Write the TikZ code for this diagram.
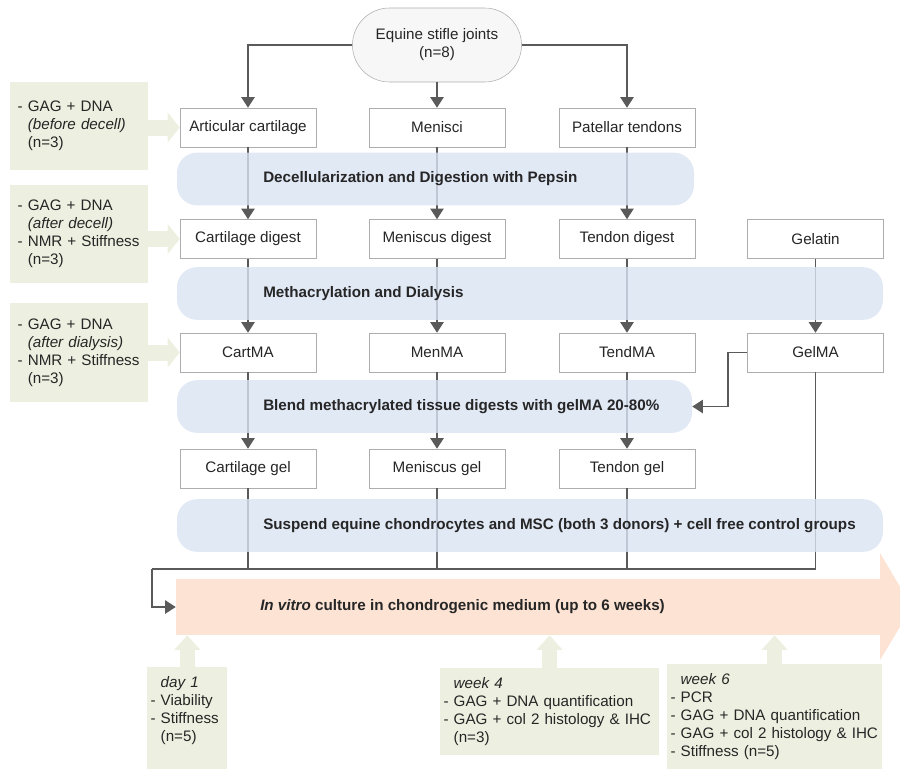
\documentclass[tikz,border=0pt]{standalone}
\usepackage{fontspec}
\setmainfont{Liberation Sans}
\usetikzlibrary{arrows.meta,shapes.misc}
\definecolor{bandblue}{HTML}{DAE3F3}
\definecolor{notegreen}{HTML}{EDF0E0}
\definecolor{culturepeach}{HTML}{FCE3D3}
\definecolor{linegray}{HTML}{5A5A5A}
\definecolor{boxgray}{HTML}{ADADAD}
\definecolor{textgray}{HTML}{262626}
\begin{document}
\begin{tikzpicture}[x=0.75pt,y=-0.75pt,
  every node/.style={font=\fontsize{11.4}{13.5}\selectfont,text=textgray},
  tissuebox/.style={draw=boxgray,fill=white,minimum width=102pt,minimum height=29.25pt,inner sep=0pt},
  procband/.style={fill=bandblue,fill opacity=0.8,rounded corners=15pt,inner sep=0pt,minimum height=39.5pt},
  bandlabel/.style={anchor=west,inner sep=0pt,font=\fontsize{11.4}{13.5}\selectfont\bfseries},
  notebox/.style={fill=notegreen,align=left,text width=92pt,inner xsep=5.75pt,minimum width=103.5pt},
  timebox/.style={fill=notegreen,align=left,anchor=north west,inner xsep=2.5pt,inner ysep=7pt},
  flowline/.style={draw=linegray,line width=1.2pt,-{Triangle[length=8pt,width=10pt]}},
  joinline/.style={draw=linegray,line width=1.2pt},
  notearrow/.style={draw=notegreen,line width=12pt,-{Triangle[length=9pt,width=22pt]}},
  timearrow/.style={draw=notegreen,line width=11pt,-{Triangle[length=11pt,width=19pt]}}]
\clip (0,0) rectangle (900,768);

% source
\node[rounded rectangle,draw=boxgray,fill=black!3,minimum width=133.5pt,minimum height=55.5pt,align=center] (joints) at (437,45) {Equine stifle joints\\(n=8)};

% tissues
\node[tissuebox] (art) at (248,127.5) {Articular cartilage};
\node[tissuebox] (men) at (437,127.5) {Menisci};
\node[tissuebox] (pat) at (627,127.5) {Patellar tendons};
% digests
\node[tissuebox] (cdig) at (248,239) {Cartilage digest};
\node[tissuebox] (mdig) at (437,239) {Meniscus digest};
\node[tissuebox] (tdig) at (627,239) {Tendon digest};
\node[tissuebox] (gelatin) at (815.5,239) {Gelatin};
% methacrylated
\node[tissuebox] (cartma) at (248,352.5) {CartMA};
\node[tissuebox] (menma) at (437,352.5) {MenMA};
\node[tissuebox] (tendma) at (627,352.5) {TendMA};
\node[tissuebox] (gelma) at (815.5,352.5) {GelMA};
% gels
\node[tissuebox] (cgel) at (248,468.5) {Cartilage gel};
\node[tissuebox] (mgel) at (437,468.5) {Meniscus gel};
\node[tissuebox] (tgel) at (627,468.5) {Tendon gel};

% culture arrow
\node[fill=culturepeach,minimum width=528pt,minimum height=42pt,inner sep=0pt] (culture) at (528,607) {};
\fill[culturepeach] (880,553) -- (912,607) -- (880,660) -- cycle;
\node[bandlabel] (culturetxt) at (260,607) {\textit{In vitro} culture in chondrogenic medium (up to 6 weeks)};
\coordinate (join) at (152,569);

% connectors
\draw[flowline] (joints.west) -| (art.north);
\draw[flowline] (joints.south) -- (men.north);
\draw[flowline] (joints.east) -| (pat.north);
\draw[flowline] (art) -- (cdig);
\draw[flowline] (men) -- (mdig);
\draw[flowline] (pat) -- (tdig);
\draw[flowline] (cdig) -- (cartma);
\draw[flowline] (mdig) -- (menma);
\draw[flowline] (tdig) -- (tendma);
\draw[flowline] (gelatin) -- (gelma);
\draw[flowline] (cartma) -- (cgel);
\draw[flowline] (menma) -- (mgel);
\draw[flowline] (tendma) -- (tgel);
\draw[joinline] (cgel.south) -- (cgel.south |- join);
\draw[joinline] (mgel.south) -- (mgel.south |- join);
\draw[joinline] (tgel.south) -- (tgel.south |- join);
\draw[joinline] (gelma.south) |- (join);
\draw[flowline] (join) |- (culture.west);

% process bands
\node[procband,minimum width=387.75pt] (decell) at (435.5,179) {};
\node[procband,minimum width=529.5pt] (methac) at (530,293.5) {};
\node[procband,minimum width=386.25pt] (blend) at (434.5,406.5) {};
\node[procband,minimum width=529.5pt] (suspend) at (530,525.5) {};
\node[bandlabel] (decelltxt) at (263,179) {Decellularization and Digestion with Pepsin};
\node[bandlabel] (methactxt) at (263,293.5) {Methacrylation and Dialysis};
\node[bandlabel] (blendtxt) at (263,406.5) {Blend methacrylated tissue digests with gelMA 20-80\%};
\node[bandlabel] (suspendtxt) at (263,525.5) {Suspend equine chondrocytes and MSC (both 3 donors) + cell free control groups};
\draw[flowline] (gelma.west) -- ++(-19,0) |- (blend.east);

% analyses during preparation
\node[notebox,minimum height=66pt] (before) at (79,126) {- GAG + DNA\\\hphantom{- }\textit{(before decell)}\\\hphantom{- }(n=3)};
\node[notebox,minimum height=73.5pt] (after) at (79,234) {- GAG + DNA\\\hphantom{- }\textit{(after decell)}\\- NMR + Stiffness\\\hphantom{- }(n=3)};
\node[notebox,minimum height=74pt] (dialysis) at (79,352.5) {- GAG + DNA\\\hphantom{- }\textit{(after dialysis)}\\- NMR + Stiffness\\\hphantom{- }(n=3)};
\draw[notearrow] (before.east |- art.west) -- (art.west);
\draw[notearrow] (after.east |- cdig.west) -- (cdig.west);
\draw[notearrow] (dialysis.east |- cartma.west) -- (cartma.west);

% analyses during culture
\node[timebox,text width=55pt] (day) at (147,667) {\hphantom{- }\textit{day 1}\\- Viability\\- Stiffness\\\hphantom{- }(n=5)\par\vspace*{14pt}};
\node[timebox,text width=159pt] (wkfour) at (440,668) {\hphantom{- }\textit{week 4}\\- GAG + DNA quantification\\- GAG + col 2 histology \& IHC\\\hphantom{- }(n=3)};
\node[timebox,text width=156pt] (wksix) at (667,664) {\hphantom{- }\textit{week 6}\\- PCR\\- GAG + DNA quantification\\- GAG + col 2 histology \& IHC\\- Stiffness (n=5)\par\vspace*{14pt}};
\draw[timearrow] (day.north) -- (day.north |- culture.south);
\draw[timearrow] (wkfour.north) -- (wkfour.north |- culture.south);
\draw[timearrow] (wksix.north) -- (wksix.north |- culture.south);
\end{tikzpicture}
\end{document}
